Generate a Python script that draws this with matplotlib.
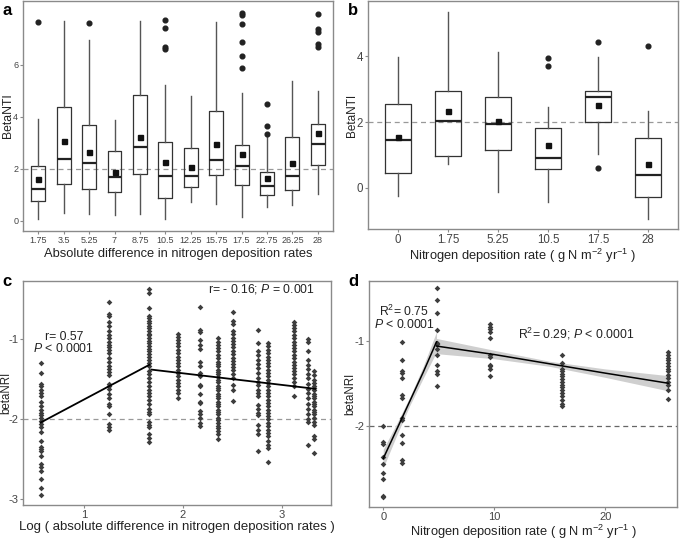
"""
plot.py

BetaNTI boxplots and betaNRI scatter / segmented fits (four panels).
"""

import numpy as np
import matplotlib
matplotlib.use('Agg')
import matplotlib.pyplot as plt

plt.rcParams['font.family'] = ['Liberation Sans', 'DejaVu Sans']
plt.rcParams['axes.unicode_minus'] = False
plt.rcParams['mathtext.fontset'] = 'custom'
plt.rcParams['mathtext.rm'] = 'Liberation Sans'
plt.rcParams['mathtext.it'] = 'Liberation Sans:italic'

# ---- panel a: BetaNTI by absolute difference in N deposition ----
a_labels = ['1.75', '3.5', '5.25', '7', '8.75', '10.5', '12.25', '15.75',
            '17.5', '22.75', '26.25', '28']
a_whislo = [0.09, 0.32, 0.28, 0.22, 0.28, 0.06, 0.72, 0.64, 0.15, 0.54, 0.62, 1.05]
a_q1 = [0.78, 1.44, 1.24, 1.12, 1.79, 0.88, 1.29, 1.78, 1.37, 1.00, 1.21, 2.17]
a_med = [1.23, 2.38, 2.23, 1.71, 2.85, 1.72, 1.72, 2.36, 2.13, 1.33, 1.72, 2.96]
a_q3 = [2.13, 4.38, 3.69, 2.69, 4.83, 3.05, 2.79, 4.22, 2.94, 1.90, 3.24, 3.73]
a_whishi = [3.94, 7.69, 6.97, 3.87, 7.69, 5.21, 4.81, 7.65, 4.94, 3.23, 5.38, 5.01]
a_mean = [1.60, 3.06, 2.67, 1.88, 3.24, 2.27, 2.08, 2.97, 2.58, 1.64, 2.22, 3.40]
a_out = [[7.65], [], [7.63], [], [], [7.73, 7.41, 6.69, 6.62], [], [],
         [8.01, 7.94, 7.59, 6.87, 6.33, 5.87], [4.49, 3.64, 3.36], [],
         [7.96, 7.37, 7.27, 6.82, 6.69]]

# ---- panel b: BetaNTI by N deposition rate ----
b_labels = ['0', '1.75', '5.25', '10.5', '17.5', '28']
b_whislo = [-0.26, 0.72, -0.14, -0.44, 1.04, -0.96]
b_q1 = [0.46, 0.97, 1.14, 0.56, 2.01, -0.29]
b_med = [1.44, 2.02, 1.95, 0.89, 2.75, 0.39]
b_q3 = [2.54, 2.96, 2.76, 1.81, 2.94, 1.52]
b_whishi = [3.97, 5.36, 4.14, 2.45, 3.99, 2.35]
b_mean = [1.53, 2.35, 2.02, 1.29, 2.52, 0.73]
b_out = [[], [], [], [3.94, 3.72], [4.43, 0.59], [4.32]]

# ---- panel c: betaNRI vs log(absolute difference) ----
c_diff = [1.75, 3.5, 5.25, 7, 8.75, 10.5, 12.25, 15.75, 17.5, 22.75, 26.25, 28]
c_vals = [
    [-1.30, -1.42, -1.56, -1.59, -1.63, -1.67, -1.71, -1.78, -1.84, -1.89,
     -1.92, -1.95, -1.98, -2.02, -2.06, -2.10, -2.16, -2.27, -2.34, -2.37,
     -2.40, -2.46, -2.56, -2.59, -2.65, -2.74, -2.86, -2.95],
    [-0.54, -0.68, -0.71, -0.78, -0.84, -0.90, -0.95, -0.99, -1.04, -1.07,
     -1.10, -1.13, -1.17, -1.24, -1.28, -1.33, -1.37, -1.41, -1.45, -1.56,
     -1.59, -1.62, -1.68, -1.74, -1.81, -1.84, -1.94, -2.06, -2.10, -2.13],
    [-0.37, -0.43, -0.61, -0.71, -0.74, -0.77, -0.80, -0.83, -0.86, -0.90,
     -0.93, -0.95, -0.99, -1.02, -1.05, -1.09, -1.12, -1.15, -1.19, -1.22,
     -1.26, -1.30, -1.34, -1.40, -1.44, -1.49, -1.54, -1.59, -1.63, -1.67,
     -1.71, -1.76, -1.81, -1.87, -1.91, -1.94, -2.03, -2.07, -2.10, -2.19,
     -2.23, -2.28],
    [-0.93, -0.97, -1.01, -1.05, -1.09, -1.13, -1.17, -1.22, -1.26, -1.30,
     -1.34, -1.38, -1.42, -1.46, -1.51, -1.55, -1.59, -1.63, -1.67, -1.73],
    [-0.60, -0.88, -0.91, -1.01, -1.07, -1.12, -1.28, -1.33, -1.42, -1.46,
     -1.57, -1.59, -1.68, -1.78, -1.80, -1.90, -1.94, -1.98, -2.05, -2.09],
    [-0.99, -1.03, -1.07, -1.11, -1.15, -1.20, -1.24, -1.28, -1.31, -1.34,
     -1.38, -1.41, -1.44, -1.47, -1.51, -1.54, -1.58, -1.61, -1.64, -1.68,
     -1.71, -1.74, -1.78, -1.81, -1.84, -1.88, -1.91, -1.94, -1.98, -2.01,
     -2.05, -2.08, -2.11, -2.15, -2.19, -2.25],
    [-0.66, -0.77, -0.81, -0.90, -0.94, -0.98, -1.02, -1.06, -1.10, -1.15,
     -1.19, -1.23, -1.27, -1.31, -1.35, -1.39, -1.44, -1.49, -1.57, -1.64,
     -1.77],
    [-0.88, -1.05, -1.15, -1.20, -1.26, -1.31, -1.36, -1.42, -1.48, -1.53,
     -1.57, -1.63, -1.67, -1.71, -1.82, -1.87, -1.92, -1.95, -2.07, -2.13,
     -2.18, -2.40],
    [-1.05, -1.09, -1.13, -1.17, -1.22, -1.26, -1.30, -1.34, -1.38, -1.42,
     -1.46, -1.51, -1.55, -1.59, -1.63, -1.67, -1.71, -1.76, -1.80, -1.84,
     -1.88, -1.92, -1.96, -2.00, -2.05, -2.09, -2.13, -2.17, -2.21, -2.27,
     -2.32, -2.36, -2.53],
    [-0.78, -0.82, -0.86, -0.90, -0.95, -0.99, -1.03, -1.07, -1.11, -1.15,
     -1.20, -1.24, -1.28, -1.32, -1.36, -1.40, -1.44, -1.49, -1.53, -1.59,
     -1.71],
    [-1.00, -1.04, -1.15, -1.26, -1.32, -1.37, -1.44, -1.49, -1.56, -1.62,
     -1.67, -1.74, -1.81, -1.87, -1.93, -2.00, -2.03, -2.32],
    [-1.40, -1.45, -1.51, -1.55, -1.58, -1.61, -1.64, -1.68, -1.71, -1.74,
     -1.78, -1.81, -1.84, -1.88, -1.91, -1.94, -1.98, -2.03, -2.07, -2.21,
     -2.25, -2.42],
]
c_fit1_x = [0.56, 1.66]
c_fit1_y = [-2.04, -1.32]
c_fit2_x = [1.68, 3.34]
c_fit2_y = [-1.38, -1.62]

# ---- panel d: betaNRI vs N deposition rate ----
d_rate = [0, 1.65, 4.8, 9.6, 16.1, 25.7]
d_vals = [
    [-2.00, -2.20, -2.22, -2.37, -2.46, -2.56, -2.63, -2.83, -2.85],
    [-1.01, -1.22, -1.35, -1.38, -1.44, -1.64, -1.67, -1.91, -1.93, -2.11,
     -2.21, -2.41, -2.44],
    [-0.37, -0.52, -0.67, -0.87, -1.02, -1.04, -1.09, -1.16, -1.28, -1.36,
     -1.39, -1.53],
    [-0.80, -0.83, -0.86, -0.89, -0.96, -1.17, -1.19, -1.28, -1.30, -1.33,
     -1.42],
    [-1.16, -1.26, -1.33, -1.36, -1.39, -1.42, -1.45, -1.49, -1.52, -1.55,
     -1.58, -1.61, -1.65, -1.70, -1.74, -1.77],
    [-1.13, -1.17, -1.20, -1.23, -1.26, -1.30, -1.33, -1.36, -1.40, -1.44,
     -1.49, -1.52, -1.58, -1.69],
]
d_fit1_x = [0, 1.2, 2.4, 3.6, 4.8]
d_fit1_y = [-2.39, -2.05, -1.71, -1.37, -1.01]
d_fit1_lo = [-2.50, -2.12, -1.76, -1.44, -1.13]
d_fit1_hi = [-2.28, -1.98, -1.66, -1.30, -0.89]
d_fit2_x = [4.8, 10, 15, 20, 25.7]
d_fit2_y = [-1.06, -1.16, -1.27, -1.38, -1.50]
d_fit2_lo = [-1.15, -1.21, -1.30, -1.43, -1.59]
d_fit2_hi = [-0.97, -1.11, -1.24, -1.33, -1.41]

ink = '#333333'
frame = '#8a8a8a'
tickc = '#444444'
txt = '#222222'


def style(ax, tsize):
    for s in ax.spines.values():
        s.set_color(frame)
        s.set_linewidth(1.0)
    ax.tick_params(colors=frame, labelcolor=tickc, labelsize=tsize,
                   length=2, width=0.8, pad=1.5)


def ylab(ax, s, xpos, size):
    # y title placed by hand so it stays inside the figure
    ax.text(xpos, 0.5, s, transform=ax.transAxes, rotation=90, ha='center',
            va='center', fontsize=size, color=txt)


def boxes(ax, labels, lo, q1, med, q3, hi, mean, out, width):
    stats = []
    for i in range(len(labels)):
        stats.append(dict(whislo=lo[i], q1=q1[i], med=med[i], q3=q3[i],
                          whishi=hi[i], mean=mean[i], fliers=out[i]))
    pos = np.arange(1, len(labels) + 1)
    ax.bxp(stats, positions=pos, widths=width, showmeans=True, showcaps=False,
           boxprops=dict(color=ink, linewidth=0.9),
           whiskerprops=dict(color='#555555', linewidth=1.0),
           medianprops=dict(color='#222222', linewidth=1.6),
           meanprops=dict(marker='s', markerfacecolor='#111111',
                          markeredgecolor='#111111', markersize=3.6),
           flierprops=dict(marker='o', markerfacecolor='#222222',
                           markeredgecolor='#222222', markersize=3.4))
    ax.set_xticks(pos)
    ax.set_xticklabels(labels)
    ax.set_xlim(0.4, len(labels) + 0.6)


fig = plt.figure(figsize=(6.85, 5.44), dpi=100)

# a
ax = fig.add_axes([0.0336, 0.5754, 0.4526, 0.4228])
boxes(ax, a_labels, a_whislo, a_q1, a_med, a_q3, a_whishi, a_mean, a_out, 0.55)
ax.axhline(2, color='#999999', ls=(0, (4, 3)), lw=0.9, zorder=0)
ax.set_ylim(-0.385, 8.46)
ax.set_yticks([0, 2, 4, 6])
style(ax, 6.5)
ylab(ax, 'BetaNTI', -0.05, 8.8)
ax.set_xlabel('Absolute difference in nitrogen deposition rates', fontsize=9.3,
              color=txt, labelpad=2)

# b
ax = fig.add_axes([0.5372, 0.579, 0.4526, 0.4191])
boxes(ax, b_labels, b_whislo, b_q1, b_med, b_q3, b_whishi, b_mean, b_out, 0.53)
ax.axhline(2, color='#999999', ls=(0, (4, 3)), lw=0.9, zorder=0)
ax.set_ylim(-1.26, 5.69)
ax.set_yticks([0, 2, 4])
style(ax, 8.3)
ylab(ax, 'BetaNTI', -0.052, 8.5)
ax.set_xlabel('Nitrogen deposition rate ( g N m$^{-2}$ yr$^{-1}$ )',
              fontsize=9.3, color=txt, labelpad=1)

# c
ax = fig.add_axes([0.0336, 0.0717, 0.4496, 0.4118])
for d, v in zip(c_diff, c_vals):
    ax.plot(np.full(len(v), np.log(d)), v, ls='none', marker='D',
            ms=2.9, color='#3d3d3d', mew=0)
ax.plot(c_fit1_x, c_fit1_y, color='black', lw=1.3)
ax.plot(c_fit2_x, c_fit2_y, color='black', lw=1.3)
ax.axhline(-2, color='#999999', ls=(0, (4, 3)), lw=0.9, zorder=0)
ax.set_xlim(0.38, 3.5)
ax.set_ylim(-3.07, -0.274)
ax.set_xticks([1, 2, 3])
ax.set_yticks([-1, -2, -3])
style(ax, 8)
ax.text(0.795, -0.97, 'r= 0.57', ha='center', va='center', fontsize=8.8,
        color=txt)
ax.text(0.795, -1.12, '$P$ < 0.0001', ha='center', va='center', fontsize=8.8,
        color=txt)
ax.text(2.80, -0.38, 'r= - 0.16; $P$ = 0.001', ha='center', va='center',
        fontsize=8.8, color=txt)
ylab(ax, 'betaNRI', -0.055, 8.3)
ax.set_xlabel('Log ( absolute difference in nitrogen deposition rates )',
              fontsize=9.5, color=txt, labelpad=1)

# d
ax = fig.add_axes([0.5391, 0.0686, 0.4496, 0.4149])
ax.fill_between(d_fit1_x, d_fit1_lo, d_fit1_hi, color='#cfcfcf', lw=0, zorder=1)
ax.fill_between(d_fit2_x, d_fit2_lo, d_fit2_hi, color='#cfcfcf', lw=0, zorder=1)
for r, v in zip(d_rate, d_vals):
    ax.plot(np.full(len(v), r), v, ls='none', marker='D', ms=2.9,
            color='#3d3d3d', mew=0, zorder=2)
ax.plot(d_fit1_x, d_fit1_y, color='black', lw=1.1, zorder=3)
ax.plot(d_fit2_x, d_fit2_y, color='black', lw=1.1, zorder=3)
ax.axhline(-2, color='#666666', ls=(0, (4, 3)), lw=0.9, zorder=0)
ax.set_xlim(-1.26, 26.5)
ax.set_ylim(-2.96, -0.29)
ax.set_xticks([0, 10, 20])
ax.set_yticks([-1, -2])
style(ax, 8)
ax.text(1.87, -0.65, 'R$^{2}$= 0.75', ha='center', va='center', fontsize=8.8,
        color=txt)
ax.text(1.9, -0.81, '$P$ < 0.0001', ha='center', va='center', fontsize=8.8,
        color=txt)
ax.text(17.35, -0.92, 'R$^{2}$= 0.29; $P$ < 0.0001', ha='center',
        va='center', fontsize=8.8, color=txt)
ylab(ax, 'betaNRI', -0.062, 8.3)
ax.set_xlabel('Nitrogen deposition rate ( g N m$^{-2}$ yr$^{-1}$ )',
              fontsize=9.3, color=txt, labelpad=1)

for x, y, s in [(0.004, 0.995, 'a'), (0.508, 0.995, 'b'),
                (0.004, 0.497, 'c'), (0.508, 0.497, 'd')]:
    fig.text(x, y, s, fontsize=12, fontweight='bold', va='top', ha='left')

fig.savefig('out.png', dpi=100)
plt.close(fig)
